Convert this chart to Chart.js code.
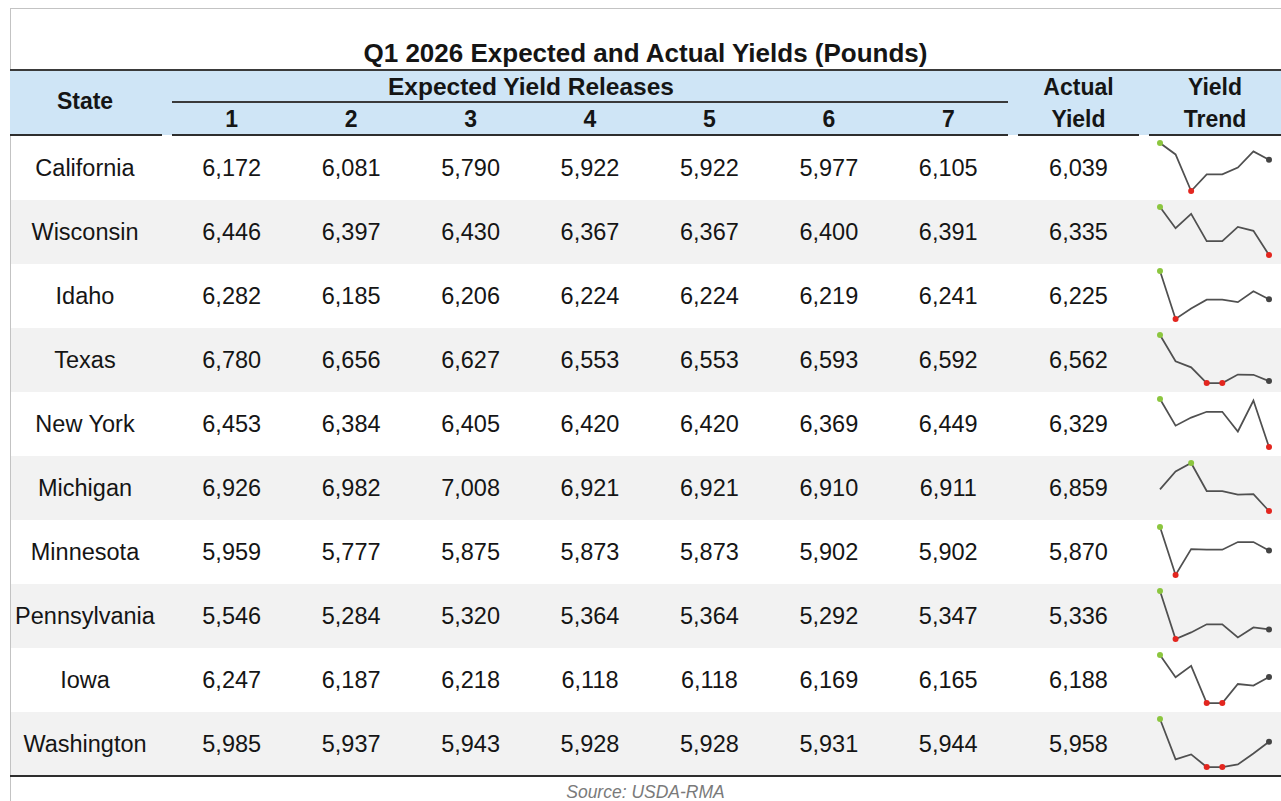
<!DOCTYPE html>
<html>
<head>
<meta charset="utf-8">
<title>Q1 2026 Expected and Actual Yields (Pounds)</title>
<script src="https://cdn.jsdelivr.net/npm/chart.js@4.4.1/dist/chart.umd.min.js"></script>
<style>
  html, body { margin: 0; padding: 0; background: #fff; }
  body {
    width: 1281px; height: 801px; position: relative; overflow: hidden;
    font-family: "Liberation Sans", Arial, sans-serif; color: #151515;
  }
  .abs { position: absolute; }
  .rule { position: absolute; }
  .cell {
    position: absolute; text-align: center; white-space: nowrap;
    font-size: 23.5px; line-height: 64px; height: 64px;
  }
  .hd {
    position: absolute; text-align: center; white-space: nowrap;
    font-size: 23px; font-weight: bold; line-height: 32px; height: 32px;
  }
  .spark { position: absolute; }
</style>
</head>
<body>
<div id="sheet"></div>
<script>
// ---- data ----
const title = 'Q1 2026 Expected and Actual Yields (Pounds)';
const sourceNote = 'Source: USDA-RMA';
const states = ['California', 'Wisconsin', 'Idaho', 'Texas', 'New York',
                'Michigan', 'Minnesota', 'Pennsylvania', 'Iowa', 'Washington'];
const releaseLabels = ['1', '2', '3', '4', '5', '6', '7'];
// expected yield per release (1..7), one list per state
const expectedYields = [
    [6172, 6081, 5790, 5922, 5922, 5977, 6105],
    [6446, 6397, 6430, 6367, 6367, 6400, 6391],
    [6282, 6185, 6206, 6224, 6224, 6219, 6241],
    [6780, 6656, 6627, 6553, 6553, 6593, 6592],
    [6453, 6384, 6405, 6420, 6420, 6369, 6449],
    [6926, 6982, 7008, 6921, 6921, 6910, 6911],
    [5959, 5777, 5875, 5873, 5873, 5902, 5902],
    [5546, 5284, 5320, 5364, 5364, 5292, 5347],
    [6247, 6187, 6218, 6118, 6118, 6169, 6165],
    [5985, 5937, 5943, 5928, 5928, 5931, 5944],
];
const actualYields = [6039, 6335, 6225, 6562, 6329, 6859, 5870, 5336, 6188, 5958];

// ---- layout ----
const sheet = document.getElementById('sheet');
const ROW_TOP = 135;
const ROW_H = 64;
const stateCol = { left: 10, width: 150 };
const relLeft = 172, relWidth = (1008 - 172) / 7;
const actualCol = { left: 1018, width: 121 };
const trendCol = { left: 1149, width: 132 };

function el(cls, css, text) {
    const d = document.createElement('div');
    d.className = cls;
    Object.assign(d.style, css);
    if (text !== undefined) d.textContent = text;
    sheet.appendChild(d);
    return d;
}
function px(v) { return v + 'px'; }

// frame lines
el('rule', { left: px(10), top: px(8), width: px(1271), height: px(1), background: '#c3c3c3' });
el('rule', { left: px(10), top: px(8), width: px(1), height: px(793), background: '#c3c3c3' });

// title
el('abs', { left: px(10), top: px(38), width: px(1271), height: px(30), lineHeight: '30px',
    textAlign: 'center', fontSize: '26px', fontWeight: 'bold' }, title);

// header band
el('abs', { left: px(10), top: px(70), width: px(1271), height: px(65), background: '#cfe5f6' });
el('rule', { left: px(10), top: px(69), width: px(1271), height: px(2), background: '#3a3a3a' });

// header texts
el('hd', { left: px(stateCol.left), width: px(stateCol.width), top: px(85) }, 'State');
el('hd', { left: px(331), width: px(400), top: px(71), fontSize: '24.5px' }, 'Expected Yield Releases');
el('rule', { left: px(relLeft), top: px(101), width: px(relWidth * 7), height: px(2), background: '#3a3a3a' });
releaseLabels.forEach(function (lab, j) {
    el('hd', { left: px(relLeft + relWidth * j), width: px(relWidth), top: px(103) }, lab);
});
el('hd', { left: px(actualCol.left), width: px(actualCol.width), top: px(71) }, 'Actual');
el('hd', { left: px(actualCol.left), width: px(actualCol.width), top: px(103) }, 'Yield');
el('hd', { left: px(trendCol.left), width: px(trendCol.width), top: px(71) }, 'Yield');
el('hd', { left: px(trendCol.left), width: px(trendCol.width), top: px(103) }, 'Trend');

// header bottom rules (separate segments)
[[10, 162], [172, 1008], [1018, 1139], [1149, 1281]].forEach(function (seg) {
    el('rule', { left: px(seg[0]), top: px(134), width: px(seg[1] - seg[0]), height: px(2), background: '#2e2e2e' });
});

// body rows
const fmt = function (v) { return v.toLocaleString('en-US'); };
states.forEach(function (st, i) {
    const top = ROW_TOP + ROW_H * i + 1;
    if (i % 2 === 1) {
        el('abs', { left: px(11), top: px(top), width: px(1270), height: px(ROW_H), background: '#f2f2f2' });
    }
    el('cell', { left: px(stateCol.left), width: px(stateCol.width), top: px(top) }, st);
    expectedYields[i].forEach(function (v, j) {
        el('cell', { left: px(relLeft + relWidth * j), width: px(relWidth), top: px(top) }, fmt(v));
    });
    el('cell', { left: px(actualCol.left), width: px(actualCol.width), top: px(top) }, fmt(actualYields[i]));
});

// bottom rule + source
const bottomY = ROW_TOP + ROW_H * states.length + 1;
el('rule', { left: px(10), top: px(bottomY - 1), width: px(1271), height: px(2), background: '#2e2e2e' });
el('abs', { left: px(10), top: px(782), width: px(1271), height: px(20), lineHeight: '20px',
    textAlign: 'center', fontSize: '17.5px', fontStyle: 'italic', color: '#7a7a7a' }, sourceNote);

// sparklines
const MAX_COLOR = '#8cc63f';
const MIN_COLOR = '#e3261f';
const LAST_COLOR = '#444444';
const LINE_COLOR = '#505050';

function drawSpark(i) {
    const series = expectedYields[i].concat([actualYields[i]]);
    const lo = Math.min.apply(null, series);
    const hi = Math.max.apply(null, series);
    const colors = series.map(function (v, k) {
        if (v === lo) return MIN_COLOR;
        if (v === hi) return MAX_COLOR;
        if (k === series.length - 1) return LAST_COLOR;
        return 'rgba(0,0,0,0)';
    });
    const radii = series.map(function (v, k) {
        return (v === lo || v === hi || k === series.length - 1) ? 3 : 0;
    });

    const holder = el('spark', { left: px(1150), top: px(ROW_TOP + ROW_H * i + 1), width: px(130), height: px(ROW_H) });
    const canvas = document.createElement('canvas');
    canvas.width = 130;
    canvas.height = ROW_H;
    holder.appendChild(canvas);

    return new Chart(canvas.getContext('2d'), {
        type: 'line',
        data: {
            labels: releaseLabels.concat(['Actual']),
            datasets: [{
                data: series,
                borderColor: LINE_COLOR,
                borderWidth: 1.75,
                tension: 0,
                pointRadius: radii,
                pointBackgroundColor: colors,
                pointBorderWidth: 0,
                clip: false,
            }],
        },
        options: {
            responsive: false,
            animation: false,
            layout: { padding: { left: 10, right: 11, top: 7, bottom: 9 } },
            plugins: { legend: { display: false }, tooltip: { enabled: false } },
            scales: {
                x: { display: false, offset: false },
                y: { display: false, min: lo, max: hi },
            },
        },
    });
}

states.forEach(function (st, i) { drawSpark(i); });
</script>
</body>
</html>
